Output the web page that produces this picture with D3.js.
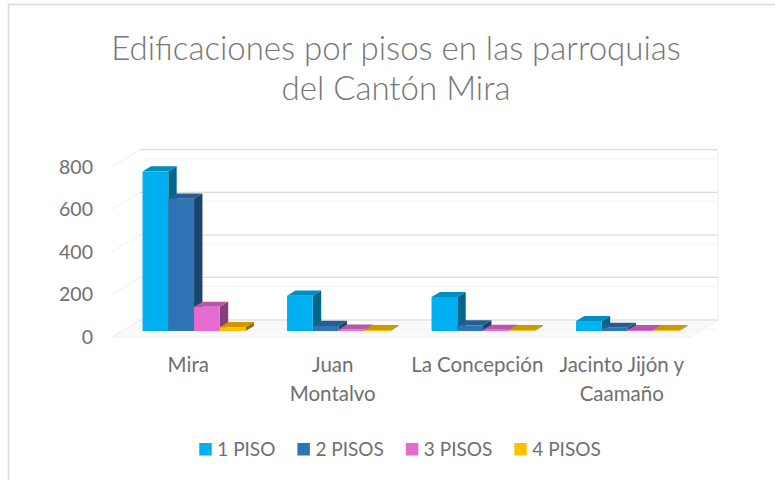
<!DOCTYPE html>
<html>
<head>
<meta charset="utf-8">
<script src="https://cdn.jsdelivr.net/npm/d3@7"></script>
<style>
  html, body { margin: 0; padding: 0; background: #fff; }
  svg { display: block; }
</style>
</head>
<body>
<svg id="chart" width="775" height="480"></svg>
<script>
// Parroquias (categories) and number of buildings per floor count
const categories = ["Mira", "Juan Montalvo", "La Concepción", "Jacinto Jijón y Caamaño"];
const categoryLines = [["Mira"], ["Juan", "Montalvo"], ["La Concepción"], ["Jacinto Jijón y", "Caamaño"]];
const seriesNames = ["1 PISO", "2 PISOS", "3 PISOS", "4 PISOS"];
const piso1 = [750, 166, 160, 47];
const piso2 = [622, 24, 27, 15];
const piso3 = [114, 7, 6, 5];
const piso4 = [18, 5, 4, 4];
const seriesValues = [piso1, piso2, piso3, piso4];
const yTicks = [0, 200, 400, 600, 800];
const colors = ["#00B0F0", "#2E75B6", "#E46CD0", "#FFC000"];

const svg = d3.select("#chart");
const textColor = "#6f6f6f";
const fontFam = "Lato, 'Open Sans', sans-serif";

// chart frame
svg.append("path")
  .attr("d", "M8.5,480 L8.5,4.5 L775,4.5")
  .attr("fill", "none").attr("stroke", "#d9d9d9").attr("stroke-width", 1.5);

// title
const title = svg.append("text")
  .attr("text-anchor", "middle")
  .attr("fill", "#767676")
  .style("font-family", fontFam)
  .style("font-weight", 300)
  .style("font-size", "33px");
title.append("tspan").attr("x", 396).attr("y", 60).text("Edificaciones por pisos en las parroquias");
title.append("tspan").attr("x", 396).attr("y", 100).text("del Cantón Mira");

// 3D oblique projection: depth z in [0,1] shifts right by DX and up by DY
const DX = 28, DY = 17;
const y = d3.scaleLinear().domain([0, 800]).range([337, 166.7]);
const x0 = d3.scaleBand().domain(categories).range([112, 690]).paddingInner(0.287).paddingOuter(0.1435);
const x1 = d3.scaleBand().domain(seriesNames).range([0, x0.bandwidth()]);
const px = (x, z) => x + z * DX;
const py = (v, z) => y(v) - z * DY;

// walls and gridlines
const grid = svg.append("g").attr("fill", "none");
const xL = 112, xR = 690;
// floor
grid.append("path")
  .attr("d", `M${px(xL,0)},${py(0,0)} L${px(xR,0)},${py(0,0)} L${px(xR,1)},${py(0,1)} L${px(xL,1)},${py(0,1)} Z`)
  .attr("fill", "#f9f9f9").attr("stroke", "#f0f0f0");
yTicks.forEach(t => {
  // side wall
  grid.append("path")
    .attr("d", `M${px(xL,0)},${py(t,0)} L${px(xL,1)},${py(t,1)}`)
    .attr("stroke", "#efefef").attr("stroke-width", 1);
  // back wall
  grid.append("path")
    .attr("d", `M${px(xL,1)},${py(t,1)} L${px(xR,1)},${py(t,1)}`)
    .attr("stroke", "#dcdcdc").attr("stroke-width", 1.2);
  grid.append("path")
    .attr("d", `M${px(xL,1) + 4},${py(t,1) + 9} L${px(xR,1) - 2},${py(t,1) + 9}`)
    .attr("stroke", "#f2f2f2").attr("stroke-width", 1);
});
// back wall right edge
grid.append("path")
  .attr("d", `M${px(xR,1)},${py(0,1)} L${px(xR,1)},${py(800,1)}`)
  .attr("stroke", "#f0f0f0");

// y-axis labels
svg.append("g").selectAll("text").data(yTicks).join("text")
  .attr("x", 93).attr("y", d => y(d))
  .attr("dy", "0.35em")
  .attr("text-anchor", "end")
  .attr("fill", textColor)
  .style("font-family", fontFam)
  .style("font-size", "19.5px")
  .text(d => d);

// bars
const z0 = 0.35, z1 = 0.65;
const shade = (c, k) => d3.interpolateRgb(c, "#000")(k);
const bars = svg.append("g");
categories.forEach((cat, ci) => {
  seriesNames.forEach((s, si) => {
    const v = seriesValues[si][ci];
    const xa = x0(cat) + x1(s), xb = xa + x1.bandwidth();
    const c = colors[si];
    const g = bars.append("g");
    // right side face
    g.append("path")
      .attr("d", `M${px(xb,z0)},${py(0,z0)} L${px(xb,z1)},${py(0,z1)} L${px(xb,z1)},${py(v,z1)} L${px(xb,z0)},${py(v,z0)} Z`)
      .attr("fill", shade(c, 0.42));
    // top face
    g.append("path")
      .attr("d", `M${px(xa,z0)},${py(v,z0)} L${px(xb,z0)},${py(v,z0)} L${px(xb,z1)},${py(v,z1)} L${px(xa,z1)},${py(v,z1)} Z`)
      .attr("fill", shade(c, 0.2));
    // front face
    g.append("path")
      .attr("d", `M${px(xa,z0)},${py(0,z0)} L${px(xb,z0)},${py(0,z0)} L${px(xb,z0)},${py(v,z0)} L${px(xa,z0)},${py(v,z0)} Z`)
      .attr("fill", c);
  });
});

// category labels
const catG = svg.append("g")
  .attr("fill", textColor)
  .style("font-family", fontFam)
  .style("font-size", "20.5px")
  .attr("text-anchor", "middle");
categories.forEach((cat, ci) => {
  const t = catG.append("text");
  categoryLines[ci].forEach((line, li) => {
    t.append("tspan")
      .attr("x", x0(cat) + x0.bandwidth() / 2 + 4)
      .attr("y", 372 + li * 29)
      .text(line);
  });
});

// legend
const legend = svg.append("g")
  .style("font-family", fontFam)
  .style("font-size", "19px");
const items = legend.selectAll("g").data(seriesNames).join("g");
items.append("rect").attr("width", 12.5).attr("height", 12.5).attr("y", 443)
  .attr("fill", (d, i) => colors[i]);
items.append("text").attr("x", 18).attr("y", 455.5)
  .attr("fill", textColor).text(d => d);
let lx = 0;
const widths = [];
items.each(function() {
  widths.push(18 + d3.select(this).select("text").node().getComputedTextLength());
});
const gap = 22;
const total = d3.sum(widths) + gap * (widths.length - 1);
lx = 400 - total / 2;
items.attr("transform", (d, i) => {
  const tx = lx; lx += widths[i] + gap; return `translate(${tx},0)`;
});
</script>
</body>
</html>
